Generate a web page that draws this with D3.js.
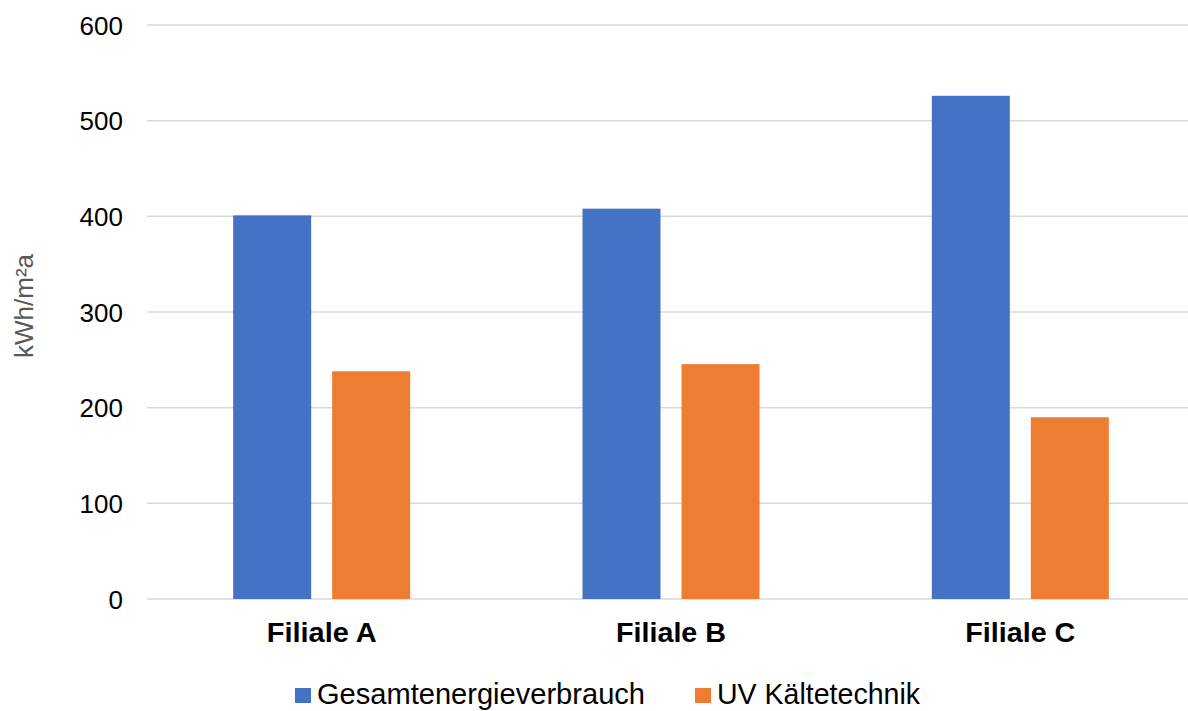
<!DOCTYPE html>
<html><head><meta charset="utf-8">
<script src="https://cdn.jsdelivr.net/npm/d3@7/dist/d3.min.js"></script>
<style>body{margin:0;background:#fff}svg{display:block}text{font-family:"Liberation Sans",Arial,sans-serif}</style>
</head><body><svg id="c" width="1188" height="711"></svg>
<script>
const categories = ["Filiale A", "Filiale B", "Filiale C"];
const seriesNames = ["Gesamtenergieverbrauch", "UV Kältetechnik"];
const gesamt = [401, 408, 526];
const uv = [238, 245.5, 190];
const yTicks = [0, 100, 200, 300, 400, 500, 600];
const yTitle = "kWh/m²a";
const colors = ["#4472C4", "#ED7D31"];

const svg = d3.select("#c");
const m = {left:147, right:1195, top:25, bottom:599};
const x = d3.scaleBand().domain(categories).range([m.left, m.right]);
const y = d3.scaleLinear().domain([0, 600]).range([m.bottom, m.top]);
const xs = d3.scaleBand().domain(seriesNames).range([0, 177]).paddingInner(21/99);

// grid
svg.append("g").selectAll("line").data(yTicks).join("line")
  .attr("x1", m.left).attr("x2", 1188)
  .attr("y1", d => y(d)).attr("y2", d => y(d))
  .attr("stroke", "#d9d9d9").attr("stroke-width", 1.5);

// y axis labels
const ya = svg.append("g").attr("transform", `translate(${123},0)`)
  .call(d3.axisLeft(y).tickValues(yTicks).tickSize(0).tickPadding(0));
ya.select(".domain").remove();
ya.selectAll("text").attr("font-size", 26).attr("fill", "#000")
  .attr("font-family", "Liberation Sans, Arial, sans-serif").attr("dy", "0.35em");

// bars
const data = [gesamt, uv];
const groups = svg.append("g").selectAll("g").data(categories).join("g")
  .attr("transform", d => `translate(${x(d) + (x.bandwidth() - 177) / 2},0)`);
groups.selectAll("rect").data((c, i) => seriesNames.map((s, j) => ({s, v: data[j][i], j})))
  .join("rect")
  .attr("x", d => xs(d.s)).attr("width", xs.bandwidth())
  .attr("y", d => y(d.v)).attr("height", d => y(0) - y(d.v))
  .attr("fill", d => colors[d.j]);

// x axis labels
const xa = svg.append("g").attr("transform", `translate(0,${642})`)
  .call(d3.axisBottom(x).tickSize(0).tickPadding(0));
xa.select(".domain").remove();
xa.selectAll("text").attr("font-size", 28).attr("font-weight", "bold").attr("fill", "#000")
  .attr("font-family", "Liberation Sans, Arial, sans-serif").attr("dy", 0).attr("y", 0)
  .attr("textLength", 110).attr("lengthAdjust", "spacingAndGlyphs");

// y title
svg.append("text").attr("transform", "translate(33,306) rotate(-90)")
  .attr("text-anchor", "middle").attr("font-size", 26).attr("fill", "#595959").text(yTitle);

// legend
const leg = svg.append("g");
const lx = [295, 695];
const lw = [328, 203];
seriesNames.forEach((s, i) => {
  leg.append("rect").attr("x", lx[i]).attr("y", 688).attr("width", 16).attr("height", 15).attr("fill", colors[i]);
  leg.append("text").attr("x", lx[i] + 22).attr("y", 704).attr("font-size", 30).attr("fill", "#000")
    .attr("textLength", lw[i]).attr("lengthAdjust", "spacingAndGlyphs").text(s);
});
</script></body></html>
